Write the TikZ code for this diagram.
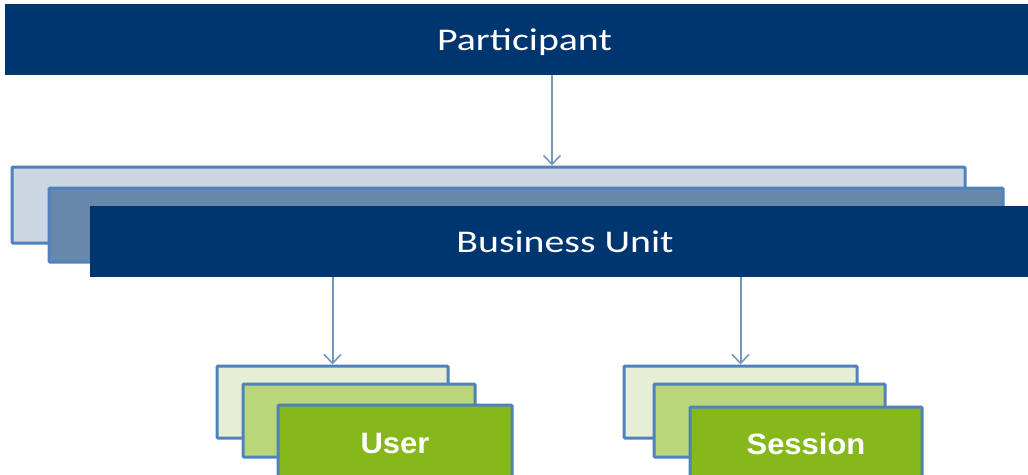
\documentclass[tikz,border=0pt]{standalone}
\usepackage{fontspec}
\usetikzlibrary{arrows.meta}
\newfontfamily\calib{Carlito}
\newfontfamily\arialf{Liberation Sans}
\definecolor{navy}{RGB}{0,54,112}
\definecolor{paleblue}{RGB}{204,214,227}
\definecolor{midblue}{RGB}{103,135,171}
\definecolor{bordblue}{RGB}{79,129,189}
\definecolor{arrblue}{RGB}{116,150,192}
\definecolor{gfront}{RGB}{134,183,27}
\definecolor{gmid}{RGB}{185,215,122}
\definecolor{gback}{RGB}{230,239,214}
\newcommand{\basedrop}[2]{\raisebox{-#1}[0pt][0pt]{#2}}
\begin{document}
\begin{tikzpicture}[x=1pt,y=-1pt,
  bar/.style={fill=navy,draw=none,inner sep=0pt,text=white,
    font=\calib\fontsize{31.6}{36}\selectfont},
  stackbox/.style={draw=bordblue,line width=3pt,rounded corners=1pt,inner sep=0pt},
  gtext/.style={text=white,inner sep=0pt,font=\arialf\bfseries\fontsize{29.5}{34}\selectfont},
  arr/.style={draw=arrblue,line width=2pt,-{Straight Barb[length=9pt,width=17pt,line width=1.6pt]}}]
\useasboundingbox (0,0) rectangle (1028,474);
\clip (0,0) rectangle (1028,474);
% Participant
\node[bar,minimum width=1039pt,minimum height=71pt] (part) at (524.5,39.5)
  {\basedrop{10.5pt}{\scalebox{1.26}[1]{Participant}}};
% Business unit stack
\node[stackbox,fill=paleblue,minimum width=953pt,minimum height=76pt] (bu3) at (488.5,205) {};
\node[stackbox,fill=midblue,minimum width=954pt,minimum height=74pt] (bu2) at (526,225) {};
\node[bar,minimum width=950pt,minimum height=71pt] (bu) at (565,241.5)
  {\basedrop{10.5pt}{\scalebox{1.26}[1]{Business Unit}}};
% User stack
\node[stackbox,fill=gback,minimum width=231pt,minimum height=72pt] (u3) at (332.5,402) {};
\node[stackbox,fill=gmid,minimum width=232pt,minimum height=73pt] (u2) at (359,420.5) {};
\node[stackbox,fill=gfront,minimum width=234pt,minimum height=73pt] (u1) at (395,441.5) {};
\node[gtext] (ut) at (u1.center) {\basedrop{11.5pt}{\scalebox{1.05}[1]{User}}};
% Session stack
\node[stackbox,fill=gback,minimum width=233pt,minimum height=72pt] (s3) at (740.5,402) {};
\node[stackbox,fill=gmid,minimum width=231pt,minimum height=73pt] (s2) at (769.5,420.5) {};
\node[stackbox,fill=gfront,minimum width=232pt,minimum height=73pt] (s1) at (806,443.5) {};
\node[gtext] (st) at (s1.center) {\basedrop{10.5pt}{\scalebox{1.05}[1]{Session}}};
% connectors
\coordinate (a1) at (552,0);
\draw[arr] (part.south -| a1) -- (bu3.north -| a1);
\draw[arr] (bu.south -| u3.north) -- (u3.north);
\draw[arr] (bu.south -| s3.north) -- (s3.north);
\end{tikzpicture}
\end{document}
